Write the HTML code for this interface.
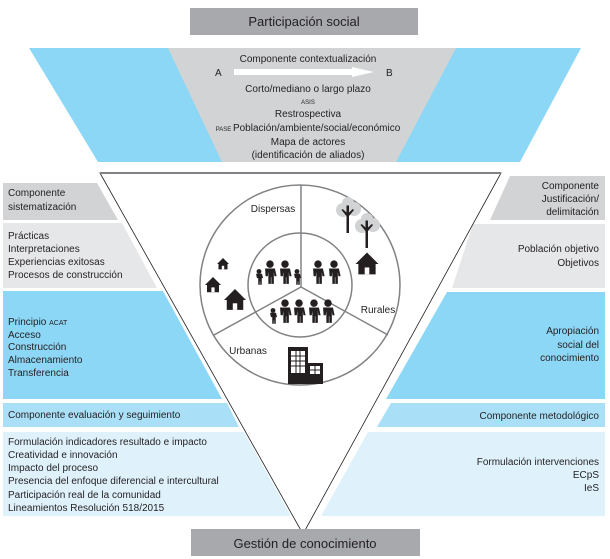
<!DOCTYPE html>
<html><head><meta charset="utf-8"><style>
html,body{margin:0;padding:0;background:#fff;width:610px;height:559px;overflow:hidden}
svg text{font-family:"Liberation Sans",sans-serif;font-size:10px;fill:#231f20}
</style></head><body>
<svg width="610" height="559" viewBox="0 0 610 559" xmlns="http://www.w3.org/2000/svg">
<defs>
<g id="p"><circle cx="0" cy="-9" r="3.4"/><path d="M-4.5,-5 h9 l1.5,7 h-2 l-0.5,-4 v11 h-2.3 v-6 h-0.4 v6 h-2.3 v-11 l-0.5,4 h-2 z"/></g>
<g id="k"><circle cx="0" cy="-5" r="2.2"/><path d="M-2.7,-3 h5.4 l1,4 h-1.2 v6 h-1.4 v-3 h-0.4 v3 h-1.4 v-6 h-1.2 z"/></g>
<g id="h"><path d="M0,-10 L10,0 H7.5 V9 H-7.5 V0 H-10 Z"/><rect x="-2" y="3" width="4" height="6" fill="#fff"/></g>
</defs>
<rect x="190" y="8" width="228" height="27" fill="#a7a9ac"/>
<text x="304" y="26" text-anchor="middle" style="font-size:13px">Participación social</text>
<polygon points="29,48 581,48 520,162 98,162" fill="#8dd7f6"/>
<polygon points="168,48 456,48 396,162 222,162" fill="#d1d3d4"/>
<text x="308" y="62" text-anchor="middle">Componente contextualización</text>
<text x="215" y="76">A</text><text x="386" y="76">B</text>
<polygon points="234,69 352,69 352,67 374,72 352,77 352,75 234,75" fill="#fff"/>
<text x="308" y="92" text-anchor="middle">Corto/mediano o largo plazo</text>
<text x="308" y="104" text-anchor="middle" style="font-size:6px">ASIS</text>
<text x="308" y="117" text-anchor="middle">Restrospectiva</text>
<text x="308" y="131" text-anchor="middle"><tspan style="font-size:6px">PASE </tspan>Población/ambiente/social/económico</text>
<text x="308" y="145" text-anchor="middle">Mapa de actores</text>
<text x="308" y="158" text-anchor="middle">(identificación de aliados)</text>
<polygon points="3,183 97,183 118,220 3,220" fill="#d1d3d4"/>
<polygon points="3,223 122,223 157,288 3,288" fill="#e6e7e8"/>
<polygon points="3,291 163,291 222,399 3,399" fill="#8dd7f6"/>
<polygon points="3,403 227,403 239,427 3,427" fill="#a9e0f7"/>
<polygon points="3,432 244,432 291,516 3,516" fill="#dff2fc"/>
<polygon points="510,176 605,176 605,220 490,220" fill="#d1d3d4"/>
<polygon points="473,224 605,224 605,288 452,288" fill="#e6e7e8"/>
<polygon points="447,292 605,292 605,399 386,399" fill="#8dd7f6"/>
<polygon points="391,403 605,403 605,427 377,427" fill="#a9e0f7"/>
<polygon points="368,432 605,432 605,516 321,516" fill="#dff2fc"/>
<polygon points="100,173 501,173 303,534" fill="#fff" stroke="#231f20" stroke-width="0.8"/>
<line x1="100" y1="173" x2="501" y2="173" stroke="#808285" stroke-width="2"/>
<text x="8" y="196">Componente</text><text x="8" y="210">sistematización</text>
<text x="8" y="239">Prácticas</text><text x="8" y="252">Interpretaciones</text><text x="8" y="265">Experiencias exitosas</text><text x="8" y="278">Procesos de construcción</text>
<text x="8" y="325">Principio <tspan style="font-size:7px">ACAT</tspan></text><text x="8" y="338">Acceso</text><text x="8" y="350">Construcción</text><text x="8" y="363">Almacenamiento</text><text x="8" y="376">Transferencia</text>
<text x="8" y="418">Componente evaluación y seguimiento</text>
<text x="8" y="445">Formulación indicadores resultado e impacto</text><text x="8" y="458">Creatividad e innovación</text><text x="8" y="471">Impacto del proceso</text><text x="8" y="484">Presencia del enfoque diferencial e intercultural</text><text x="8" y="498">Participación real de la comunidad</text><text x="8" y="511">Lineamientos Resolución 518/2015</text>
<g text-anchor="end">
<text x="599" y="189">Componente</text><text x="599" y="202">Justificación/</text><text x="599" y="215">delimitación</text>
<text x="599" y="252">Población objetivo</text><text x="599" y="266">Objetivos</text>
<text x="599" y="334">Apropiación</text><text x="599" y="348">social del</text><text x="599" y="361">conocimiento</text>
<text x="599" y="419">Componente metodológico</text>
<text x="599" y="465">Formulación intervenciones</text><text x="599" y="478">ECpS</text><text x="599" y="491">IeS</text>
</g>
<g stroke="#808285" stroke-width="1.5" fill="none">
<circle cx="300" cy="285" r="100"/>
<circle cx="300" cy="285" r="52"/>
<line x1="301" y1="185" x2="301" y2="287"/>
<line x1="301" y1="287" x2="214" y2="335"/>
<line x1="301" y1="287" x2="388" y2="335"/>
</g>
<text x="273" y="212" text-anchor="middle">Dispersas</text>
<text x="378" y="313" text-anchor="middle">Rurales</text>
<text x="248" y="354" text-anchor="middle">Urbanas</text>
<g fill="#231f20">
<use href="#h" transform="translate(223,264) scale(0.6)"/>
<use href="#h" transform="translate(213,285) scale(0.8)"/>
<use href="#h" transform="translate(235,300) scale(1.1)"/>
<use href="#h" transform="translate(367,264) scale(1.15)"/>
<use href="#p" transform="translate(270,274) scale(1.1)"/><use href="#p" transform="translate(285,274) scale(1.1)"/>
<use href="#k" transform="translate(259,277) scale(1.1)"/><use href="#k" transform="translate(297,277) scale(1.1)"/>
<use href="#p" transform="translate(318,274) scale(1.1)"/><use href="#p" transform="translate(334,274) scale(1.1)"/>
<use href="#p" transform="translate(285,313) scale(1.1)"/><use href="#p" transform="translate(299,313) scale(1.1)"/><use href="#p" transform="translate(314,313) scale(1.1)"/><use href="#p" transform="translate(328,313) scale(1.1)"/>
<use href="#k" transform="translate(273,316) scale(1.1)"/>
<rect x="288" y="347" width="20" height="37"/>
<rect x="307" y="363" width="16" height="21"/>
<g fill="#fff">
<rect x="291" y="351" width="14" height="22"/>
<rect x="310" y="366" width="10" height="8"/>
</g>
<g stroke="#231f20" stroke-width="1"><line x1="296" y1="351" x2="296" y2="373"/><line x1="300" y1="351" x2="300" y2="373"/><line x1="291" y1="356" x2="305" y2="356"/><line x1="291" y1="361" x2="305" y2="361"/><line x1="291" y1="366" x2="305" y2="366"/><line x1="315" y1="366" x2="315" y2="374"/><line x1="310" y1="370" x2="320" y2="370"/></g>
<g fill="#d1d3d4"><circle cx="343" cy="210" r="7"/><circle cx="354" cy="209" r="7"/><circle cx="348" cy="203" r="6"/><circle cx="362" cy="226" r="7"/><circle cx="373" cy="225" r="7"/><circle cx="367" cy="219" r="6"/></g>
<path d="M346.5,233 v-17 l-5,-6 l1.2,-1 l3.8,3.5 v-7 h2.5 v7 l3.8,-3.5 l1.2,1 l-5,6 v17 z"/>
<path d="M365.5,248 v-17 l-5,-6 l1.2,-1 l3.8,3.5 v-7 h2.5 v7 l3.8,-3.5 l1.2,1 l-5,6 v17 z"/>
</g>
<rect x="191" y="529" width="229" height="27" fill="#a7a9ac"/>
<text x="305" y="548" text-anchor="middle" style="font-size:13px">Gestión de conocimiento</text>
</svg>
</body></html>
